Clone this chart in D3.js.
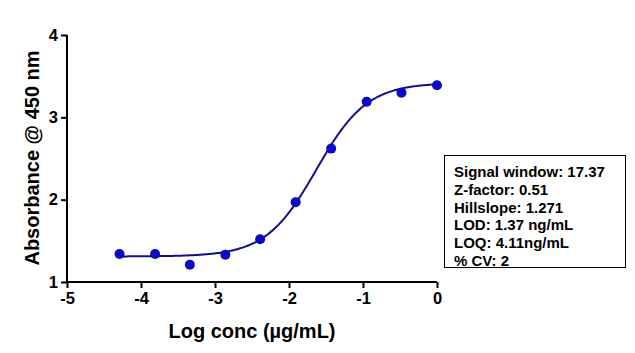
<!DOCTYPE html>
<html>
<head>
<meta charset="utf-8">
<script src="https://cdn.jsdelivr.net/npm/d3@7"></script>
<style>
  body { margin: 0; background: #fff; }
  text { font-family: "Liberation Sans", Arial, sans-serif; font-weight: bold; }
</style>
</head>
<body>
<svg id="svg" width="635" height="353"></svg>
<script>
// Measured points (log conc, absorbance)
let logConc = [-4.29, -3.81, -3.34, -2.86, -2.39, -1.91, -1.43, -0.95, -0.48, 0];
let absorbance = [1.34, 1.34, 1.21, 1.33, 1.52, 1.97, 2.62, 3.19, 3.30, 3.39];

// 4PL fit parameters
let fitBottom = 1.31;
let fitTop = 3.42;
let fitLogEC50 = -1.63;
let fitHill = 1.271;

let xTicks = [-5, -4, -3, -2, -1, 0];
let yTicks = [1, 2, 3, 4];

let statsLines = ["Signal window: 17.37", "Z-factor: 0.51", "Hillslope: 1.271",
    "LOD: 1.37 ng/mL", "LOQ: 4.11ng/mL", "% CV: 2"];

let svg = d3.select("#svg");

let x = d3.scaleLinear().domain([-5, 0]).range([67, 437]);
let y = d3.scaleLinear().domain([1, 4]).range([282, 35]);

//Axes (hyphen minus like the original, not d3's unicode minus)
let xAxis = svg.append("g")
    .attr("transform", "translate(0,282)")
    .call(d3.axisBottom(x).tickValues(xTicks).tickSize(6).tickPadding(4).tickFormat(function (d) { return String(d); }));
let yAxis = svg.append("g")
    .attr("transform", "translate(67,0)")
    .call(d3.axisLeft(y).tickValues(yTicks).tickSize(6).tickPadding(3).tickFormat(function (d) { return String(d); }));

[xAxis, yAxis].forEach(function (a) {
    a.select(".domain").attr("stroke", "#000").attr("stroke-width", 2);
    a.selectAll(".tick line").attr("stroke", "#000").attr("stroke-width", 2);
    a.selectAll(".tick text").attr("fill", "#000").style("font-size", "16.5px")
        .style("font-family", "'Liberation Sans', Arial, sans-serif").style("font-weight", "bold");
});
// pull domain ends flush (no outer ticks)
xAxis.select(".domain").attr("d", "M" + x(-5) + ",0H" + x(0));
yAxis.select(".domain").attr("d", "M0," + y(1) + "V" + y(4));

//Axis titles
svg.append("text")
    .attr("x", 252).attr("y", 338)
    .attr("text-anchor", "middle")
    .style("font-size", "20px")
    .text("Log conc (\u00b5g/mL)");

svg.append("text")
    .attr("transform", "translate(39,158) rotate(-90)")
    .attr("text-anchor", "middle")
    .style("font-size", "20px")
    .text("Absorbance @ 450 nm");

//Fitted curve
function fourPL(v) {
    return fitBottom + (fitTop - fitBottom) / (1 + Math.pow(10, (fitLogEC50 - v) * fitHill));
}
let curveX = d3.range(logConc[0], 0.0001, 0.02);
svg.append("path")
    .datum(curveX)
    .attr("fill", "none")
    .attr("stroke", "#10108a")
    .attr("stroke-width", 2)
    .attr("d", d3.line().x(function (d) { return x(d); }).y(function (d) { return y(fourPL(d)); }));

//Points
svg.selectAll("circle.pt")
    .data(logConc)
    .enter()
    .append("circle")
    .attr("class", "pt")
    .attr("cx", function (d) { return x(d); })
    .attr("cy", function (d, i) { return y(absorbance[i]); })
    .attr("r", 5)
    .attr("fill", "#0a0ac0");

//Stats box
svg.append("rect")
    .attr("x", 444.5).attr("y", 155.5)
    .attr("width", 181).attr("height", 112)
    .attr("fill", "#fff").attr("stroke", "#000").attr("stroke-width", 1);

svg.selectAll("text.stat")
    .data(statsLines)
    .enter()
    .append("text")
    .attr("class", "stat")
    .attr("x", 454)
    .attr("y", function (d, i) { return 177 + i * 17.8; })
    .style("font-size", "15px")
    .text(function (d) { return d; });
</script>
</body>
</html>
